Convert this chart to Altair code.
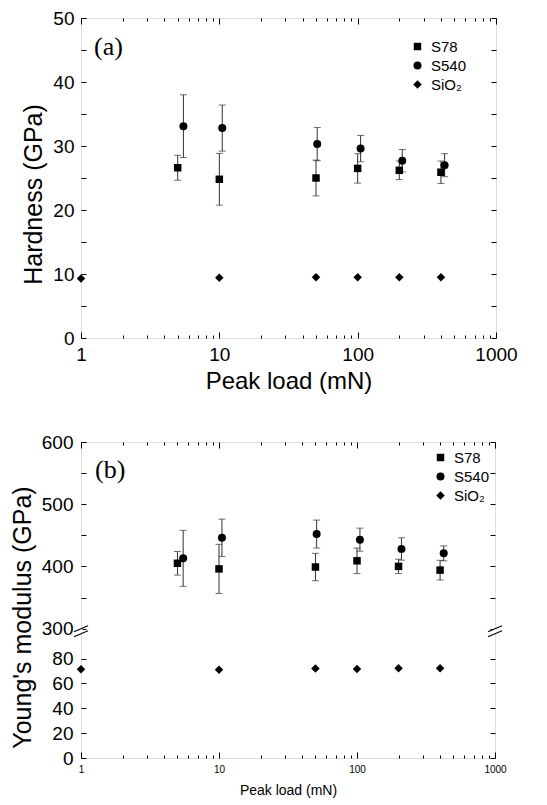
import altair as alt
import pandas as pd

# ---------------- data ----------------
series_names = ["S78", "S540", "SiO₂"]
series_shapes = ["square", "circle", "diamond"]
series_sizes = [56, 72, 120]

load_s78 = [5, 10, 50, 100, 200, 400]
load_s540 = [5.5, 10.5, 51, 105, 210, 425]
load_sio2 = [1, 10, 50, 100, 200, 400]

hard_s78 = [26.6, 24.8, 25.0, 26.5, 26.2, 25.9]
hard_s78_err = [1.95, 4.05, 2.8, 2.3, 1.45, 1.75]
hard_s540 = [33.1, 32.8, 30.3, 29.6, 27.7, 27.0]
hard_s540_err = [4.9, 3.6, 2.6, 2.05, 1.75, 1.8]
hard_sio2 = [9.3, 9.4, 9.5, 9.5, 9.5, 9.5]

mod_s78 = [405, 396, 399, 409, 400, 394]
mod_s78_err = [19, 39.5, 22, 20.5, 11.5, 15.8]
mod_s540 = [413, 446, 452, 443, 428, 421]
mod_s540_err = [45, 30, 22.5, 18.5, 18, 12]
mod_sio2 = [71.4, 71.1, 72.0, 71.7, 72.2, 72.2]

x_major = [1, 10, 100, 1000]
x_minor = [2, 3, 4, 5, 6, 7, 8, 9, 20, 30, 40, 50, 60, 70, 80, 90,
           200, 300, 400, 500, 600, 700, 800, 900]

hard_y_labels = [0, 10, 20, 30, 40, 50]
hard_y_ticks = [0, 5, 10, 15, 20, 25, 30, 35, 40, 45, 50]
mod_y_labels = [0, 20, 40, 60, 80, 300, 400, 500, 600]
mod_y_ticks = [0, 20, 40, 60, 80, 300, 350, 400, 450, 500, 550, 600]
mod_y_domain = [0, 100, 300, 600]

FONT = "Liberation Sans"


def points_df(s78, s540, sio2):
    rows = []
    for name, loads, vals in [("S78", load_s78, s78), ("S540", load_s540, s540),
                              ("SiO₂", load_sio2, sio2)]:
        for l, v in zip(loads, vals):
            rows.append({"series": name, "load": l, "val": v})
    return pd.DataFrame(rows)


def err_df(s78, e78, s540, e540):
    rows = []
    for name, loads, vals, errs in [("S78", load_s78, s78, e78), ("S540", load_s540, s540, e540)]:
        for l, v, e in zip(loads, vals, errs):
            rows.append({"series": name, "load": l, "lo": v - e, "hi": v + e})
    return pd.DataFrame(rows)


def cap_df(edf):
    rows = []
    for _, r in edf.iterrows():
        rows.append({"load": r["load"], "cap": r["lo"]})
        rows.append({"load": r["load"], "cap": r["hi"]})
    return pd.DataFrame(rows)


def tick_axis(orient, values, size):
    return alt.Axis(orient=orient, values=values, offset=-size, tickSize=size, ticks=True,
                    labels=False, domain=False, grid=False, title=None,
                    tickColor="black", tickWidth=1)


def panel(pts, errs, yscale, ylabels, yticks, ytitle, title_y, w, h,
          xlab_fs, xtitle_fs, xlab_pad, xtitle_pad, ylab_pad, ytitle_pad,
          tag, tag_x, tag_y, leg_x, leg_y, breaks=False):
    xscale = alt.Scale(type="log", domain=[1, 1000], nice=False)
    x_main = alt.X("load:Q", scale=xscale,
                   axis=alt.Axis(orient="bottom", values=x_major, format="d", ticks=False,
                                 domain=False, grid=False, labelFontSize=xlab_fs,
                                 labelPadding=xlab_pad, title="Peak load (mN)",
                                 titleFontSize=xtitle_fs, titlePadding=xtitle_pad,
                                 titleFontWeight="normal", titleFont=FONT, labelFont=FONT,
                                 labelFlush=False, labelOverlap=False))
    y_main = alt.Y("val:Q", scale=yscale,
                   axis=alt.Axis(orient="left", values=ylabels, ticks=False, domain=False,
                                 grid=False, labelFontSize=19, labelPadding=ylab_pad,
                                 title=ytitle, titleFontSize=25, titlePadding=ytitle_pad,
                                 titleFontWeight="normal", titleFont=FONT, labelFont=FONT,
                                 titleY=title_y, labelOverlap=False, labelFlush=False))
    leg = alt.Legend(orient="none", legendX=leg_x, legendY=leg_y, title=None,
                     labelFontSize=15, labelFont=FONT, rowPadding=3, labelOffset=6,
                     padding=0, symbolFillColor="black", symbolStrokeColor="black")
    base = alt.Chart(pts)
    pts_layer = base.mark_point(filled=True, color="black", opacity=1).encode(
        x=x_main, y=y_main,
        shape=alt.Shape("series:N", scale=alt.Scale(domain=series_names, range=series_shapes),
                        legend=leg),
        size=alt.Size("series:N", scale=alt.Scale(domain=series_names, range=series_sizes),
                      legend=leg),
    )

    def axis_layer(xaxis, yaxis):
        return base.mark_point(opacity=0).encode(
            x=alt.X("load:Q", scale=xscale, axis=xaxis),
            y=alt.Y("val:Q", scale=yscale, axis=yaxis))

    ax1 = axis_layer(tick_axis("bottom", x_major, 6), tick_axis("left", yticks, 5))
    ax2 = axis_layer(tick_axis("bottom", x_minor, 3), tick_axis("right", yticks, 5))
    ax3 = axis_layer(tick_axis("top", x_major, 6), None)
    ax4 = axis_layer(tick_axis("top", x_minor, 3), None)

    rule = alt.Chart(errs).mark_rule(color="#333", strokeWidth=1).encode(
        x=alt.X("load:Q", scale=xscale, axis=None),
        y=alt.Y("lo:Q", scale=yscale, axis=None), y2="hi:Q")
    caps = alt.Chart(cap_df(errs)).mark_tick(orient="horizontal", size=7, thickness=1,
                                             color="#333").encode(
        x=alt.X("load:Q", scale=xscale, axis=None),
        y=alt.Y("cap:Q", scale=yscale, axis=None))

    one = pd.DataFrame({"t": [tag]})
    tag_layer = alt.Chart(one).mark_text(font="Liberation Serif", fontSize=26, align="left",
                                         baseline="middle", color="black").encode(
        x=alt.value(tag_x), y=alt.value(tag_y), text="t:N")

    layers = [ax1, ax2, ax3, ax4, rule, caps, pts_layer, tag_layer]
    if breaks:
        y300 = yscale.range[2]
        y100 = yscale.range[1]
        ymid = (y300 + y100) / 2
        for xp in (0, w):
            layers.append(alt.Chart(one).mark_rule(color="white", strokeWidth=3).encode(
                x=alt.value(xp), y=alt.value(ymid - 3), y2=alt.value(ymid + 3)))
            for dy in (-2.5, 2.5):
                layers.append(alt.Chart(one).mark_rule(color="black", strokeWidth=1.2).encode(
                    x=alt.value(xp - 7), x2=alt.value(xp + 7),
                    y=alt.value(ymid + dy + 3), y2=alt.value(ymid + dy - 3)))

    return alt.layer(*layers).resolve_axis(x="independent", y="independent").properties(
        width=w, height=h)


top = panel(points_df(hard_s78, hard_s540, hard_sio2),
            err_df(hard_s78, hard_s78_err, hard_s540, hard_s540_err),
            alt.Scale(domain=[0, 50], nice=False, zero=False),
            hard_y_labels, hard_y_ticks, "Hardness (GPa)", 176, 415, 320,
            19, 24, 7, 5, 7, 6, "(a)", 13, 29, 329, 21)

H2 = 316
bottom = panel(points_df(mod_s78, mod_s540, mod_sio2),
               err_df(mod_s78, mod_s78_err, mod_s540, mod_s540_err),
               alt.Scale(domain=mod_y_domain, range=[H2, 191.8, 186.6, 0], nice=False, zero=False),
               mod_y_labels, mod_y_ticks, "Young's modulus (GPa)", 175, 414, H2,
               10, 14, 6, 9, 8, 6, "(b)", 14, 28, 352, 8, breaks=True)

chart = alt.vconcat(top, bottom, spacing=38).resolve_scale(
    x="independent", y="independent", shape="independent", size="independent"
).resolve_legend(shape="independent", size="independent").properties(
    padding={"left": 1, "top": 0, "right": 5, "bottom": 0}
).configure_view(stroke="black", strokeWidth=1).configure_axis(
    labelFont=FONT, titleFont=FONT, labelColor="black", titleColor="black",
    titleFontWeight="normal"
).configure(background="white")

chart.save("out.html", embed_options={"renderer": "svg", "actions": False})
